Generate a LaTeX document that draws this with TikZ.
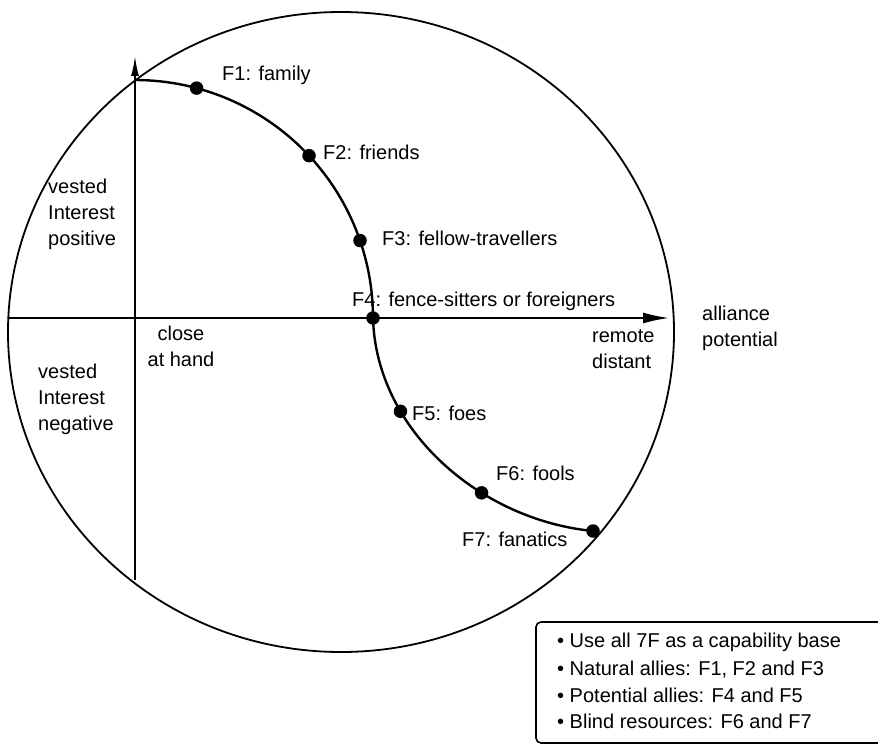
\documentclass[tikz,border=0pt]{standalone}
\usepackage{fontspec}
\setmainfont{Liberation Sans}
\usetikzlibrary{arrows.meta}
\begin{document}
\begin{tikzpicture}[x=1pt,y=-1pt,
  txt/.style={font=\fontsize{20}{26}\selectfont, inner sep=0pt},
  lbl/.style={txt, anchor=base west},
  dot/.style={circle, fill=black, inner sep=0pt, minimum size=13.5pt},
  rim/.style={line width=1.8pt},
  axis/.style={line width=1.8pt},
  curve/.style={line width=2.4pt},
  frame/.style={line width=1.6pt, rounded corners=5pt}]
\useasboundingbox (0,0) rectangle (878,746);

% outer circle
\draw[rim] (341,332) ellipse [x radius=333, y radius=320];

% axes
\coordinate (xs) at (8,318);
\coordinate (xe) at (669,318);
\coordinate (ys) at (135,580);
\coordinate (ye) at (135,56);
\draw[axis, -{Latex[length=26pt,width=11pt]}] (xs) -- (xe);
\draw[axis, -{Latex[length=20pt,width=8pt]}] (ys) -- (ye);

% the 7F curve: quarter arc down to the axis, then a sweep to the rim
\coordinate (p4) at (373,318);
\coordinate (p7) at (593,531);
\draw[curve] plot[domain=-90:0, samples=60] ({135+238*cos(\x)},{318+238*sin(\x)})
  .. controls (376,430) and (480,520) .. (p7);
\path (p4) .. controls (376,430) and (480,520) .. (p7)
  coordinate[pos=0.3] (p5) coordinate[pos=0.65] (p6);

\node[dot] (f1) at ({135+238*cos(-75)},{318+238*sin(-75)}) {};
\node[dot] (f2) at ({135+238*cos(-43)},{318+238*sin(-43)}) {};
\node[dot] (f3) at ({135+238*cos(-19)},{318+238*sin(-19)}) {};
\node[dot] (f4) at (p4) {};
\node[dot] (f5) at (p5) {};
\node[dot] (f6) at (p6) {};
\node[dot] (f7) at (p7) {};

% labels of the seven F's
\node[lbl] (l1) at (222,81) {F1: family};
\node[lbl] (l2) at (323,160) {F2: friends};
\node[lbl] (l3) at (382,245) {F3: fellow-travellers};
\node[lbl] (l4) at (352,306) {F4: fence-sitters or foreigners};
\node[lbl] (l5) at (412,420) {F5: foes};
\node[lbl] (l6) at (496,480) {F6: fools};
\node[lbl] (l7) at (462,546) {F7: fanatics};

% axis labels (anchored on the baseline of their last line)
\node[lbl, align=left] (vp) at (48,245) {vested\\Interest\\positive};
\node[lbl, align=left] (vn) at (38,430) {vested\\Interest\\negative};
\node[txt, anchor=base, align=center] (near) at (181,366) {close\\at hand};
\node[lbl, align=left] (far) at (592,368) {remote\\distant};
\node[lbl, align=left] (ap) at (702,346) {alliance\\potential};

% summary box
\draw[frame] (536,622) rectangle (892,743);
\node[lbl] (b1) at (557,647) {• Use all 7F as a capability base};
\node[lbl] (b2) at (557,675) {• Natural allies: F1, F2 and F3};
\node[lbl] (b3) at (557,702) {• Potential allies: F4 and F5};
\node[lbl] (b4) at (557,728) {• Blind resources: F6 and F7};
\end{tikzpicture}
\end{document}
